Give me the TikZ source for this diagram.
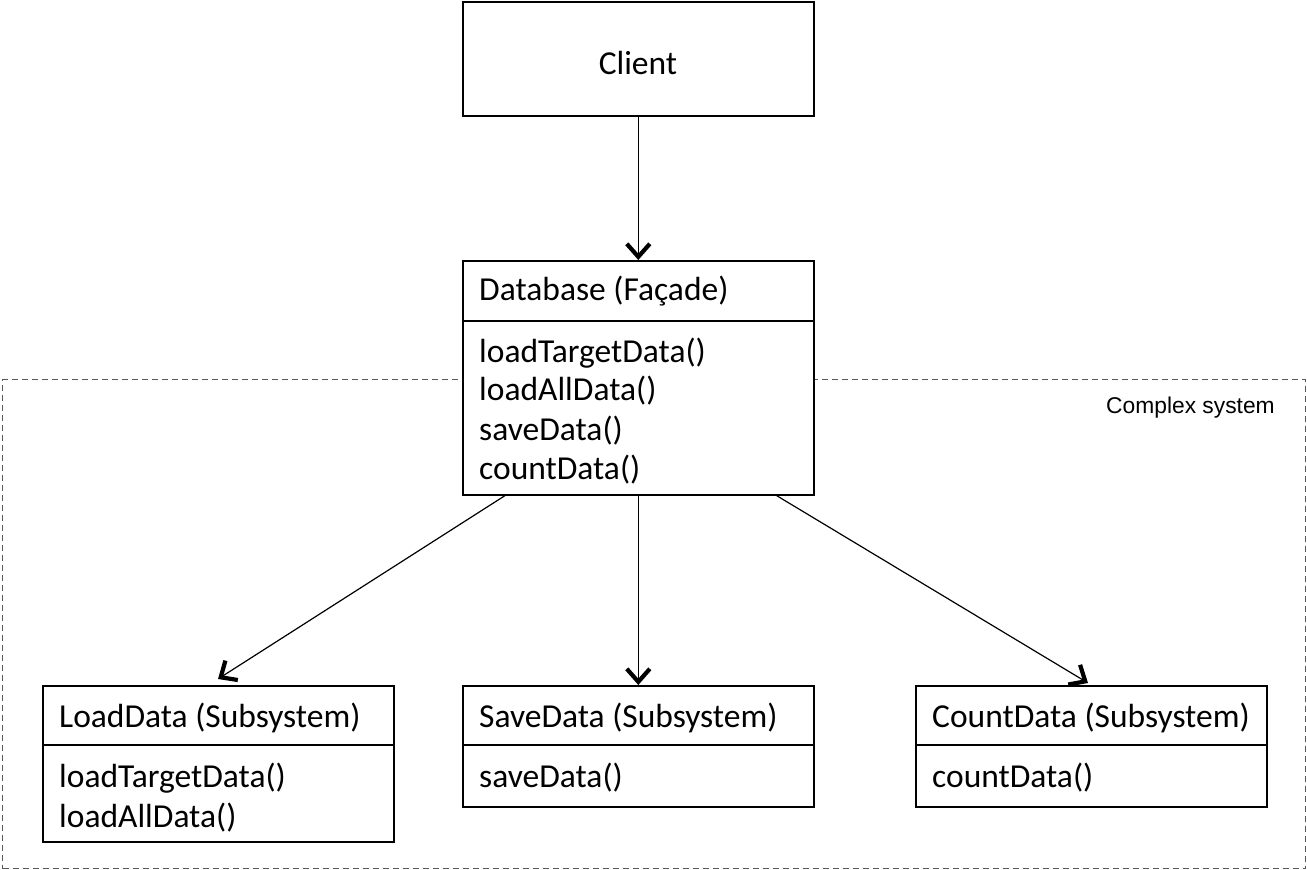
\documentclass[tikz,border=0pt]{standalone}
\usepackage{fontspec}
\setmainfont{Carlito}
\newfontfamily\arialfont{Liberation Sans}
\usetikzlibrary{arrows.meta,calc}
\begin{document}
\begin{tikzpicture}[x=1pt,y=-1pt,
  box/.style={draw=black, fill=white, line width=1.6pt, minimum width=351pt, inner sep=0pt, anchor=north west},
  lbl/.style={anchor=west, font=\fontsize{33.5}{40}\selectfont, inner sep=0pt},
  divider/.style={line width=1.6pt},
  conn/.style={line width=1.2pt, -{Straight Barb[length=13pt,width=23pt,line width=4.2pt]}},
  sysbox/.style={draw=black!65, dash pattern=on 6pt off 4pt, line width=1.1pt, inner sep=0pt, anchor=north west}]
\useasboundingbox (0,0) rectangle (1307,870);
% complex system frame
\node[sysbox, minimum width=1303pt, minimum height=489pt] (sys) at (2,379) {};
\node[anchor=west, inner sep=0pt, font=\arialfont\fontsize{22.8}{27}\selectfont] (syslbl) at (1106,408) {Complex system};
% client
\node[box, minimum height=114pt] (client) at (462,1) {};
\node[font=\fontsize{33.5}{40}\selectfont, inner sep=0pt] (clientlbl) at (638,63) {Client};
% database facade
\node[box, minimum height=234pt] (db) at (462,260) {};
\draw[divider] ($(db.north west)+(0,61)$) -- ($(db.north east)+(0,61)$);
\node[lbl] (dbh) at (479,291) {Database (Façade)};
\node[lbl] (dbm1) at (479,353) {loadTargetData()};
\node[lbl] (dbm2) at (479,391) {loadAllData()};
\node[lbl] (dbm3) at (479,431) {saveData()};
\node[lbl] (dbm4) at (479,470) {countData()};
% LoadData
\node[box, minimum height=156pt] (ld) at (42,685) {};
\draw[divider] ($(ld.north west)+(0,60)$) -- ($(ld.north east)+(0,60)$);
\node[lbl] (ldh) at (59,718) {LoadData (Subsystem)};
\node[lbl] (ldm1) at (59,778) {loadTargetData()};
\node[lbl] (ldm2) at (59,818) {loadAllData()};
% SaveData
\node[box, minimum height=121pt] (sd) at (462,685) {};
\draw[divider] ($(sd.north west)+(0,60)$) -- ($(sd.north east)+(0,60)$);
\node[lbl] (sdh) at (479,718) {SaveData (Subsystem)};
\node[lbl] (sdm1) at (479,778) {saveData()};
% CountData
\node[box, minimum height=121pt] (cd) at (915,685) {};
\draw[divider] ($(cd.north west)+(0,60)$) -- ($(cd.north east)+(0,60)$);
\node[lbl] (cdh) at (932,718) {CountData (Subsystem)};
\node[lbl] (cdm1) at (932,778) {countData()};
% connectors
\draw[conn] (client.south) -- (db.north);
\draw[conn] ([xshift=43pt]db.south west) -- ([xshift=176pt,yshift=6pt]ld.north west);
\draw[conn] (db.south) -- (sd.north);
\draw[conn] ([xshift=-38pt]db.south east) -- ([xshift=173pt,yshift=2pt]cd.north west);
\end{tikzpicture}
\end{document}
